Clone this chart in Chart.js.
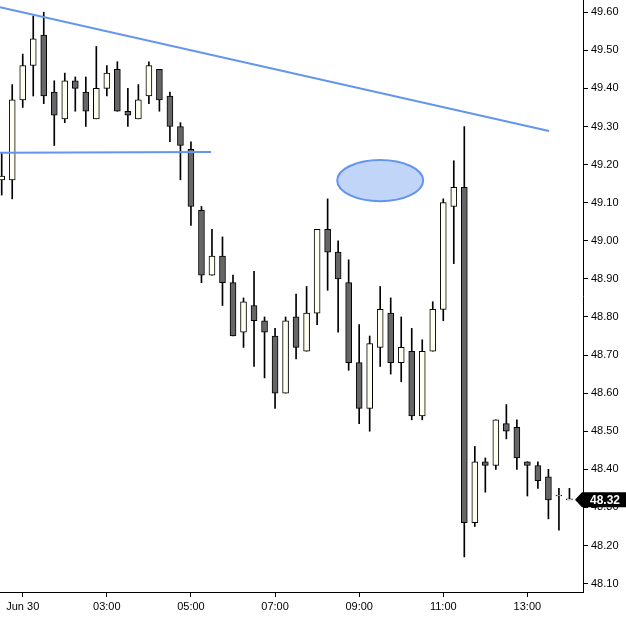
<!DOCTYPE html>
<html>
<head>
<meta charset="utf-8">
<script src="https://cdn.jsdelivr.net/npm/chart.js@4.4.1/dist/chart.umd.min.js"></script>
<style>
  html, body { margin: 0; padding: 0; background: #ffffff; }
  #wrap { width: 626px; height: 622px; position: relative; }
</style>
</head>
<body>
<div id="wrap"><canvas id="priceChart"></canvas></div>
<script>
// 15 minute candles, first one at 00:30
const opens  = [49.16, 49.16, 49.37, 49.46, 49.54, 49.39, 49.32, 49.42, 49.39, 49.32,
                49.40, 49.45, 49.34, 49.32, 49.38, 49.45, 49.38, 49.30, 49.24, 49.08,
                48.91, 48.96, 48.89, 48.76, 48.83, 48.79, 48.75, 48.60, 48.80, 48.71,
                48.81, 49.03, 48.97, 48.89, 48.68, 48.56, 48.72, 48.81, 48.68, 48.71,
                48.54, 48.71, 48.82, 49.09, 49.14, 48.26, 48.42, 48.41, 48.52, 48.51,
                48.42, 48.41, 48.38, 48.33, 48.32];
const highs  = [49.23, 49.41, 49.49, 49.59, 49.60, 49.42, 49.44, 49.43, 49.43, 49.51,
                49.46, 49.47, 49.40, 49.41, 49.47, 49.45, 49.39, 49.31, 49.26, 49.09,
                49.03, 49.01, 48.91, 48.85, 48.92, 48.80, 48.77, 48.80, 48.86, 48.88,
                49.03, 49.11, 49.00, 48.95, 48.78, 48.75, 48.88, 48.85, 48.80, 48.77,
                48.74, 48.84, 49.11, 49.21, 49.30, 48.46, 48.43, 48.53, 48.57, 48.53,
                48.42, 48.42, 48.40, 48.35, 48.35];
const lows   = [49.12, 49.11, 49.35, 49.38, 49.36, 49.25, 49.31, 49.34, 49.30, 49.32,
                49.38, 49.34, 49.30, 49.32, 49.36, 49.34, 49.26, 49.16, 49.04, 48.89,
                48.91, 48.83, 48.75, 48.72, 48.67, 48.64, 48.56, 48.60, 48.69, 48.71,
                48.78, 48.87, 48.76, 48.66, 48.52, 48.50, 48.67, 48.65, 48.63, 48.53,
                48.53, 48.71, 48.79, 48.94, 48.17, 48.25, 48.34, 48.40, 48.48, 48.40,
                48.33, 48.35, 48.27, 48.24, 48.32];
const closes = [49.17, 49.37, 49.46, 49.53, 49.38, 49.33, 49.42, 49.40, 49.34, 49.40,
                49.44, 49.34, 49.33, 49.37, 49.46, 49.37, 49.30, 49.25, 49.09, 48.91,
                48.96, 48.89, 48.75, 48.84, 48.79, 48.76, 48.60, 48.79, 48.72, 48.81,
                49.03, 48.97, 48.90, 48.68, 48.56, 48.73, 48.82, 48.68, 48.72, 48.54,
                48.71, 48.82, 49.10, 49.14, 48.26, 48.42, 48.41, 48.53, 48.50, 48.43,
                48.41, 48.37, 48.32, 48.33, 48.32];

const xTickAt = [2, 10, 18, 26, 34, 42, 50];
const xTickLabels = ["Jun 30", "03:00", "05:00", "07:00", "09:00", "11:00", "13:00"];
const yTicks = [48.10, 48.20, 48.30, 48.40, 48.50, 48.60, 48.70, 48.80,
                48.90, 49.00, 49.10, 49.20, 49.30, 49.40, 49.50, 49.60];

// drawn studies
const trendTop = [{ x: -0.162, y: 49.613 }, { x: 52.06, y: 49.288 }];
const supportLine = [{ x: -0.162, y: 49.231 }, { x: 19.91, y: 49.233 }];
const marker = { index: 36.0, value: 49.158, halfSpan: 4.09, halfRange: 0.054 };

const blue = "#6495ED";
const upFill = "#FFFFF0";
const downFill = "#666666";

const candlePlugin = {
  id: "studies",
  afterDatasetsDraw(chart) {
    const ctx = chart.ctx;
    const xs = chart.scales.x;
    const ys = chart.scales.y;
    const cx = xs.getPixelForValue(marker.index);
    const cy = ys.getPixelForValue(marker.value);
    const rx = xs.getPixelForValue(marker.index + marker.halfSpan) - cx;
    const ry = cy - ys.getPixelForValue(marker.value + marker.halfRange);
    ctx.save();
    ctx.beginPath();
    ctx.ellipse(cx, cy, rx, ry, 0, 0, Math.PI * 2);
    ctx.fillStyle = "rgba(100, 149, 237, 0.4)";
    ctx.fill();
    ctx.lineWidth = 2;
    ctx.strokeStyle = blue;
    ctx.stroke();
    ctx.restore();
  },
  afterDraw(chart) {
    // last price tag on the axis
    const ctx = chart.ctx;
    const last = closes[closes.length - 1];
    const y = chart.scales.y.getPixelForValue(last);
    const right = chart.chartArea.right;
    ctx.save();
    ctx.beginPath();
    ctx.moveTo(right - 8, y);
    ctx.lineTo(right - 1, y - 7.5);
    ctx.lineTo(chart.width, y - 7.5);
    ctx.lineTo(chart.width, y + 7.5);
    ctx.lineTo(right - 1, y + 7.5);
    ctx.closePath();
    ctx.fillStyle = "#000000";
    ctx.fill();
    ctx.fillStyle = "#ffffff";
    ctx.font = "bold 12px 'Liberation Sans', Arial, sans-serif";
    ctx.textBaseline = "middle";
    ctx.fillText(last.toFixed(2), right + 7, y + 0.5);
    ctx.restore();
  }
};

function makeChart() {
  const canvas = document.getElementById("priceChart");
  new Chart(canvas, {
    type: "bar",
    data: {
      datasets: [
        {
          type: "line",
          data: trendTop,
          borderColor: blue,
          borderWidth: 2,
          pointRadius: 0,
          order: 0
        },
        {
          type: "line",
          data: supportLine,
          borderColor: blue,
          borderWidth: 2,
          pointRadius: 0,
          order: 0
        },
        {
          data: opens.map((o, i) => ({ x: i, y: [o, closes[i]] })),
          backgroundColor: opens.map((o, i) => (closes[i] >= o ? upFill : downFill)),
          borderColor: "#000000",
          borderWidth: 1,
          borderSkipped: false,
          barThickness: 6,
          minBarLength: 1,
          grouped: false,
          order: 1
        },
        {
          data: lows.map((l, i) => ({ x: i, y: [l, highs[i]] })),
          backgroundColor: "#000000",
          borderWidth: 0,
          barThickness: 1,
          grouped: false,
          order: 2
        }
      ]
    },
    options: {
      responsive: true,
      maintainAspectRatio: false,
      animation: false,
      layout: { padding: 0 },
      plugins: {
        legend: { display: false },
        tooltip: { enabled: false }
      },
      scales: {
        x: {
          type: "linear",
          min: -0.162,
          max: 55.29,
          offset: false,
          afterBuildTicks: (scale) => {
            scale.ticks = xTickAt.map((v) => ({ value: v }));
          },
          afterFit: (scale) => {
            scale.height = 30;
            scale.paddingLeft = 0;
            scale.paddingRight = 0;
          },
          ticks: {
            autoSkip: false,
            maxRotation: 0,
            color: "#000000",
            padding: 3,
            font: { family: "'Liberation Sans', Arial, sans-serif", size: 11 },
            callback: (v) => xTickLabels[xTickAt.indexOf(v)]
          },
          grid: {
            offset: false,
            drawOnChartArea: false,
            tickLength: 5,
            tickColor: "#000000"
          },
          border: { display: true, color: "#000000", width: 1 }
        },
        y: {
          type: "linear",
          position: "right",
          min: 48.078,
          max: 49.632,
          afterBuildTicks: (scale) => {
            scale.ticks = yTicks.map((v) => ({ value: v }));
          },
          afterFit: (scale) => {
            scale.width = 43;
            scale.paddingTop = 0;
            scale.paddingBottom = 0;
          },
          ticks: {
            color: "#000000",
            padding: 3,
            font: { family: "'Liberation Sans', Arial, sans-serif", size: 11 },
            callback: (v) => Number(v).toFixed(2)
          },
          grid: {
            drawOnChartArea: false,
            tickLength: 5,
            tickColor: "#000000"
          },
          border: { display: true, color: "#000000", width: 1 }
        }
      }
    },
    plugins: [candlePlugin]
  });
}

document.addEventListener("DOMContentLoaded", makeChart);
</script>
</body>
</html>
